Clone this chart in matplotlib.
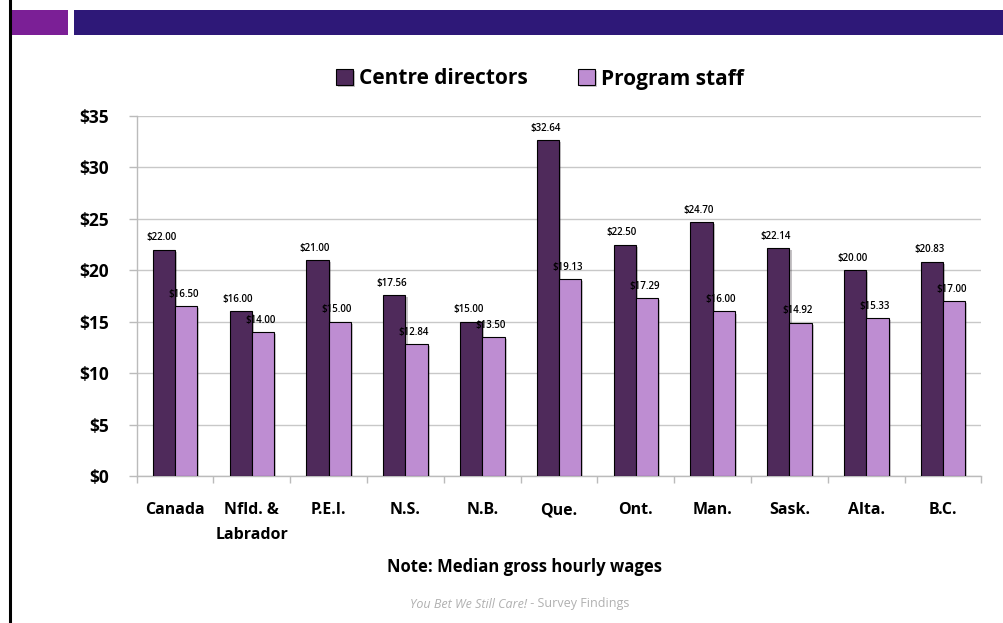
import matplotlib
matplotlib.use("Agg")
import matplotlib.pyplot as plt
from matplotlib.patches import Rectangle
from matplotlib.lines import Line2D
import matplotlib.patheffects as pe
import numpy as np

categories = ["Canada", "Nfld. &\nLabrador", "P.E.I.", "N.S.", "N.B.", "Que.",
              "Ont.", "Man.", "Sask.", "Alta.", "B.C."]
directors = [22.00, 16.00, 21.00, 17.56, 15.00, 32.64, 22.50, 24.70, 22.14, 20.00, 20.83]
staff = [16.50, 14.00, 15.00, 12.84, 13.50, 19.13, 17.29, 16.00, 14.92, 15.33, 17.00]
series_names = ["Centre directors", "Program staff"]
yticks = [0, 5, 10, 15, 20, 25, 30, 35]
ytick_labels = ["$0", "$5", "$10", "$15", "$20", "$25", "$30", "$35"]

col_dir = "#4F2A5B"
col_staff = "#BE8DD2"
FONT = "Open Sans"

fig = plt.figure(figsize=(10.04, 6.23), dpi=100)

# slide decorations
W, H = 1004, 623
def fx(px): return px / W
def fy(py): return 1 - py / H
fig.add_artist(Line2D([fx(9.5), fx(9.5)], [0, 1], color="black", lw=2.2, transform=fig.transFigure))
fig.add_artist(Rectangle((fx(10), fy(35)), fx(68) - fx(10), fy(10) - fy(35),
                         transform=fig.transFigure, color="#7B1F96", lw=0))
fig.add_artist(Rectangle((fx(74), fy(35)), 1 - fx(74), fy(10) - fy(35),
                         transform=fig.transFigure, color="#2E1878", lw=0))

ax = fig.add_axes([fx(136.6), fy(476), fx(981.5) - fx(136.6), fy(116) - fy(476)])
x = np.arange(len(categories))
bw = 0.29
shadow = [pe.SimplePatchShadow(offset=(1.5, -1.5), alpha=0.25), pe.Normal()]
b1 = ax.bar(x - bw / 2, directors, bw, color=col_dir, edgecolor="black", lw=0.8, zorder=3,
            path_effects=shadow)
b2 = ax.bar(x + bw / 2, staff, bw, color=col_staff, edgecolor="black", lw=0.8, zorder=3,
            path_effects=shadow)

for xi, v in zip(x - bw / 2, directors):
    ax.annotate(f"${v:.2f}", (xi, v), xytext=(-2, 4.5), textcoords="offset points",
                ha="center", va="bottom", fontsize=7, fontfamily=FONT, fontweight="semibold")
for xi, v in zip(x + bw / 2, staff):
    ax.annotate(f"${v:.2f}", (xi, v), xytext=(-2, 4.5), textcoords="offset points",
                ha="center", va="bottom", fontsize=7, fontfamily=FONT, fontweight="semibold")

ax.set_xlim(-0.5, len(categories) - 0.5)
ax.set_ylim(0, 35)
ax.set_yticks(yticks)
ax.set_yticklabels(ytick_labels, fontsize=12.5, fontweight="bold", fontfamily=FONT)
ax.set_xticks(x)
ax.set_xticklabels(categories, fontsize=11.5, fontweight="bold", fontfamily=FONT, linespacing=1.7)
ax.tick_params(axis="x", length=0, pad=19)
ax.set_xticks(np.arange(len(categories) + 1) - 0.5, minor=True)
ax.tick_params(axis="x", which="minor", length=5, color="#BBBBBB", width=1)
ax.tick_params(axis="y", length=6, color="#BBBBBB", width=1, pad=14)
ax.grid(axis="y", color="#C8C8C8", lw=1, zorder=0)
for s in ["top", "right"]:
    ax.spines[s].set_visible(False)
for s in ["left", "bottom"]:
    ax.spines[s].set_color("#BBBBBB")
    ax.spines[s].set_linewidth(1)

leg = fig.legend([b1, b2], series_names, loc="center", bbox_to_anchor=(fx(540), fy(79)),
                 ncol=2, frameon=False, prop={"family": FONT, "weight": "bold", "size": 15},
                 handlelength=0.8, handleheight=0.8, handletextpad=0.3, columnspacing=2.4)

fig.text(fx(525), fy(567), "Note: Median gross hourly wages", ha="center", va="center",
         fontsize=12, fontweight="bold", fontfamily=FONT)
fig.text(fx(527), fy(604), "You Bet We Still Care!", ha="right", va="center", fontsize=9,
         style="italic", color="#B0B0B0", fontfamily=FONT)
fig.text(fx(527), fy(604), " - Survey Findings", ha="left", va="center", fontsize=9,
         color="#B0B0B0", fontfamily=FONT)

fig.savefig("out.png", dpi=100)
